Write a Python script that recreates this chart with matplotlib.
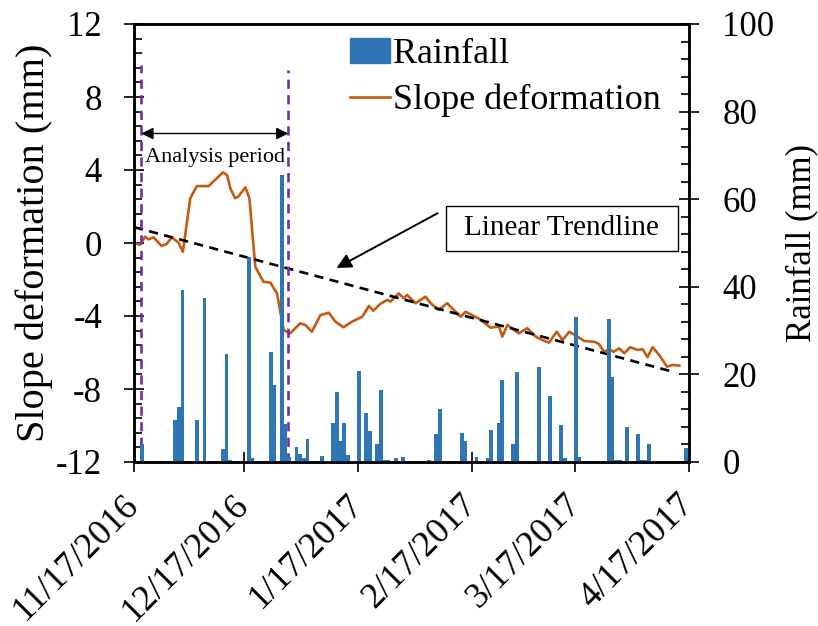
import datetime as dt
import matplotlib
matplotlib.use("Agg")
import matplotlib.pyplot as plt
import matplotlib.dates as mdates
from matplotlib.ticker import MultipleLocator
from matplotlib.patches import Rectangle, Patch
from matplotlib.lines import Line2D

plt.rcParams['font.family'] = ['Liberation Serif', 'DejaVu Serif']
plt.rcParams['axes.unicode_minus'] = False

start = dt.datetime(2016, 11, 17)

# slope deformation (days after 11/17/2016, mm)
def_days = [0.0, 1.6, 3.0, 3.9, 5.3, 7.5, 8.9, 10.3, 12.1, 13.3, 15.3, 17.1, 20.3,
            24.2, 25.3, 26.2, 27.5, 28.4, 30.3, 31.4, 33.0, 35.2, 37.1, 38.9, 40.7,
            42.5, 45.2, 46.6, 48.4, 50.7, 53.0, 54.8, 57.0, 59.3, 62.1, 63.9, 65.1,
            67.0, 68.9, 69.8, 72.0, 73.4, 74.3, 76.6, 79.3, 80.7, 82.9, 85.2, 87.0,
            88.9, 90.2, 92.0, 94.3, 97.0, 99.3, 100.2, 101.6, 104.7, 107.0, 109.3,
            111.1, 112.9, 115.0, 116.6, 118.4, 120.7, 122.5, 125.2, 126.5, 127.9,
            129.3, 130.5, 132.0, 133.4, 135.0, 137.0, 138.4, 139.7, 141.1, 142.9,
            145.0, 146.5, 148.4]
def_mm = [0.0, -0.1, 0.35, 0.2, 0.31, -0.16, -0.05, 0.31, 0.02, -0.48, 2.45, 3.12, 3.12,
          3.87, 3.73, 3.0, 2.45, 2.55, 3.05, 2.45, -1.3, -2.12, -2.17, -2.76, -4.77,
          -4.95, -4.4, -4.49, -4.86, -3.95, -3.82, -4.31, -4.62, -4.31, -4.04, -3.45, -3.71,
          -3.34, -3.12, -3.21, -2.76, -3.03, -2.85, -3.3, -2.94, -3.3, -3.67, -3.3, -3.67,
          -4.04, -3.77, -3.95, -4.2, -4.64, -4.58, -5.13, -4.49, -4.95, -4.67, -5.13,
          -5.32, -5.46, -4.86, -5.32, -4.86, -5.13, -5.37, -5.41, -5.53, -5.96,
          -5.82, -5.96, -5.77, -6.04, -5.71, -5.86, -5.82, -6.26, -5.71, -6.14,
          -6.78, -6.68, -6.72]

# daily rainfall (days after 11/17/2016, mm)
rain_days = [2, 11, 12, 13, 17, 19, 24, 25, 26, 31, 32, 33, 34, 37, 38, 40, 41, 42, 44, 45,
             46, 47, 51, 52, 53, 54, 55, 56, 57, 58, 59, 61, 62, 63, 64, 66, 67, 68, 69, 71,
             73, 80, 82, 83, 89, 90, 93, 96, 97, 99, 100, 103, 104, 106, 109, 110, 113, 116,
             117, 120, 121, 129, 130, 131, 132, 134, 137, 138, 139, 140, 141, 150, 151]
rain_mm = [4.0, 9.7, 12.6, 39.2, 9.7, 37.4, 2.9, 24.7, 0.4, 46.7, 0.8, 0.3, 0.3, 25.1, 17.5,
           65.5, 8.6, 1.1, 3.4, 1.9, 0.8, 5.2, 1.4, 0.3, 0.3, 8.9, 16.0, 4.7, 8.8, 1.5,
           0.3, 20.8, 0.3, 11.3, 7.1, 4.2, 16.5, 0.5, 0.5, 0.9, 1.1, 0.5, 6.3, 12.2, 6.7,
           4.7, 1.1, 0.9, 7.4, 8.8, 18.8, 4.2, 20.5, 0.3, 0.3, 21.8, 15.0, 8.5, 0.9, 33.1,
           1.1, 32.7, 19.3, 0.4, 0.4, 8.0, 6.3, 0.4, 0.4, 4.0, 0.3, 3.1, 15.6]

trend_days = [0, 145.6]
trend_mm = [0.87, -7.0]
analysis_days = [2, 42]
tick_labels = ['11/17/2016', '12/17/2016', '1/17/2017', '2/17/2017', '3/17/2017', '4/17/2017']

BLUE = '#2E75B6'
ORANGE = '#C55A11'
PURPLE = '#7030A0'


def day(d):
    return start + dt.timedelta(days=d)


fig = plt.figure(figsize=(8.18, 6.26), dpi=100)
ax = fig.add_axes([134 / 818, 1 - 462 / 626, (689 - 134) / 818, (462 - 24) / 626])
ax2 = ax.twinx()

ax.plot([day(d) for d in def_days], def_mm, color=ORANGE, lw=1.9)
ax.plot([day(d) for d in trend_days], trend_mm, color='black', lw=1.9,
        linestyle=(0, (3.5, 2.4)))
for d in analysis_days:
    top = 9.75 if d == analysis_days[0] else 9.5
    ax.plot([day(d), day(d)], [-12, top], color=PURPLE, lw=1.9, linestyle=(0, (3.5, 2.4)))

ax2.bar([day(d + 0.2) for d in rain_days], rain_mm, width=1.0, color=BLUE, linewidth=0)

# analysis period arrow
ax.annotate('', xy=(day(analysis_days[0]), 6.0), xytext=(day(analysis_days[1]), 6.0),
            arrowprops=dict(arrowstyle='<|-|>', color='black', lw=1.0, mutation_scale=18,
                            shrinkA=0, shrinkB=0))
ax.text(day(22), 4.7, 'Analysis period', fontsize=16, ha='center', va='center')

# trendline label box + arrow
ax2.add_patch(Rectangle((mdates.date2num(day(84.8)), 48.2), 63.2, 10.2,
                        facecolor='white', edgecolor='black', lw=1.0, zorder=3))
ax2.text(day(116.4), 53.4, 'Linear Trendline', fontsize=21, ha='center', va='center', zorder=4)
ax2.annotate('', xy=(day(55.1), 44.3), xytext=(day(82.6), 56.8),
             arrowprops=dict(arrowstyle='-|>', color='black', lw=1.4, mutation_scale=22,
                             shrinkA=0, shrinkB=0))

ax.set_xlim(day(0), day(151))
ax.set_ylim(-12, 12)
ax2.set_ylim(0, 100)

ticks = [day(0), day(30), day(61), day(92), day(120), day(151)]
ax.set_xticks(ticks)
ax.set_xticklabels(tick_labels, rotation=45, ha='right', va='center', rotation_mode='anchor')
ax.yaxis.set_major_locator(MultipleLocator(4))
ax.yaxis.set_minor_locator(MultipleLocator(0.8))
ax2.yaxis.set_major_locator(MultipleLocator(20))
ax2.yaxis.set_minor_locator(MultipleLocator(4))

ax.tick_params(axis='x', which='major', direction='inout', length=14, width=1.2,
               labelsize=26, pad=20)
ax.tick_params(axis='y', which='major', direction='inout', length=14, width=1.2,
               labelsize=25, pad=16)
ax.tick_params(axis='y', which='minor', direction='in', length=6, width=1.2)
ax2.tick_params(axis='y', which='major', direction='inout', length=14, width=1.2,
                labelsize=25, pad=17)
ax2.tick_params(axis='y', which='minor', direction='in', length=6, width=1.2)

for a in (ax, ax2):
    for s in a.spines.values():
        s.set_linewidth(1.8)

ax.set_ylabel('Slope deformation (mm)', fontsize=29, labelpad=2)
ax2.set_ylabel('Rainfall (mm)', fontsize=25, labelpad=8)

handles = [Patch(color=BLUE), Line2D([], [], color=ORANGE, lw=1.9)]
ax2.legend(handles, ['Rainfall', 'Slope deformation'], loc='upper left',
           bbox_to_anchor=(350 / 818, 1 - 38 / 626), bbox_transform=fig.transFigure,
           frameon=False, fontsize=26, handlelength=1.1, handletextpad=0.1,
           borderpad=0, borderaxespad=0, labelspacing=0.35)

fig.savefig('out.png', dpi=100)
